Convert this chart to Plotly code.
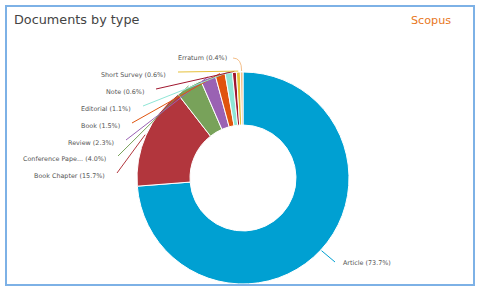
import math
import plotly.graph_objects as go

# ---- data ----
doc_types = ["Article", "Book Chapter", "Conference Pape...", "Review", "Book",
             "Editorial", "Note", "Short Survey", "Erratum"]
shares = [73.7, 15.7, 4.0, 2.3, 1.5, 1.1, 0.6, 0.6, 0.4]

# ---- style ----
colors = ["#00a0d2", "#b2363d", "#78a25a", "#9a62b3", "#e0540e",
          "#8fe6d6", "#a0162e", "#e6c13b", "#f4bf8a"]
W, H = 480, 292
CX, CY, R = 243, 178, 106          # pie centre / radius in pixels
# label layout (pixels): anchor x, centre y
label_x = [341, 107, 108, 116, 122, 133, 146, 168, 229]
label_y = [263, 176, 159, 143, 126, 109, 92, 75, 58]

def px(x):
    return x / W

def py(y):
    return 1 - y / H

fig = go.Figure()
fig.add_trace(go.Pie(
    labels=doc_types, values=shares, sort=False, direction="clockwise",
    rotation=0, hole=0.5, textinfo="none", hoverinfo="label+percent",
    marker=dict(colors=colors, line=dict(color="white", width=1)),
    domain=dict(x=[px(CX - R), px(CX + R)], y=[py(CY + R), py(CY - R)]),
    showlegend=False,
))

total = sum(shares)
cum = 0.0
shapes = []
annotations = []
for i, (lab, v) in enumerate(zip(doc_types, shares)):
    mid = (cum + v / 2) / total * 2 * math.pi
    cum += v
    ex = CX + (R + 1) * math.sin(mid)
    ey = CY - (R + 1) * math.cos(mid)
    if i == 0:
        sx, sy = label_x[i] - 6, label_y[i] - 1
        anchor = "left"
    else:
        sx, sy = label_x[i] + 10, label_y[i] - 3
        anchor = "right"
    if lab == "Erratum":
        path = f"M {px(sx-6)} {py(label_y[i])} Q {px(ex)} {py(label_y[i])} {px(ex)} {py(ey)}"
        shapes.append(dict(type="path", xref="paper", yref="paper", path=path,
                           line=dict(color=colors[i], width=1)))
    else:
        shapes.append(dict(type="line", xref="paper", yref="paper",
                           x0=px(sx), y0=py(sy), x1=px(ex), y1=py(ey),
                           line=dict(color=colors[i], width=1)))
    annotations.append(dict(
        x=px(label_x[i]), y=py(label_y[i]), xref="paper", yref="paper",
        text=f"{lab} ({v:.1f}%)", showarrow=False, xanchor=anchor, yanchor="middle",
        font=dict(family="DejaVu Sans", size=6.4, color="#555555"),
    ))

# frame
shapes.append(dict(type="rect", xref="paper", yref="paper",
                   x0=px(6), x1=px(474), y0=py(285), y1=py(6),
                   line=dict(color="#7db1e6", width=2), fillcolor="rgba(0,0,0,0)"))

annotations.append(dict(x=px(12), y=py(19), xref="paper", yref="paper",
                        text="Documents by type", showarrow=False,
                        xanchor="left", yanchor="middle",
                        font=dict(family="DejaVu Sans", size=12.8, color="#444444")))
annotations.append(dict(x=px(453), y=py(20), xref="paper", yref="paper",
                        text="Scopus", showarrow=False,
                        xanchor="right", yanchor="middle",
                        font=dict(family="DejaVu Sans", size=11.2, color="#e87722")))

fig.update_layout(
    width=W, height=H, margin=dict(l=0, r=0, t=0, b=0),
    paper_bgcolor="white", plot_bgcolor="white",
    shapes=shapes, annotations=annotations,
)
fig.write_html("out.html", config={"displayModeBar": False},
               post_script="document.body.style.margin='0';document.body.style.overflow='hidden';")
